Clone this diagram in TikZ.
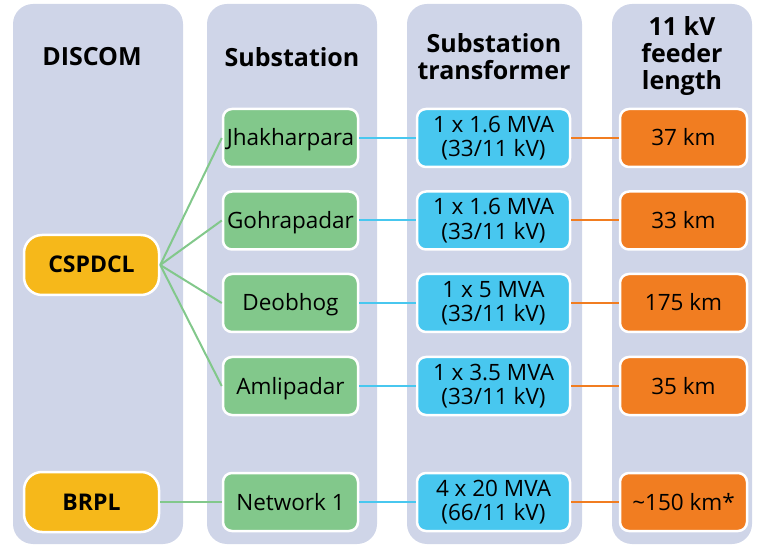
\documentclass[tikz,border=0pt]{standalone}
\usepackage{fontspec}
\setmainfont{Open Sans}
\definecolor{panel}{HTML}{CFD5E8}
\definecolor{discomc}{HTML}{F6B81A}
\definecolor{subc}{HTML}{82C88B}
\definecolor{trc}{HTML}{48C7EF}
\definecolor{fdc}{HTML}{F17D21}
\tikzset{
  box/.style={draw=white, line width=2.5pt, rounded corners=9pt, align=center,
    inner sep=0pt, font=\fontsize{22.5}{24.5}\selectfont},
  oneline/.style={text height=16pt, text depth=0pt},
  discombox/.style={box, oneline, fill=discomc, minimum width=135pt, minimum height=60pt,
    rounded corners=18pt, font=\fontsize{23}{26}\selectfont\bfseries},
  subbox/.style={box, oneline, fill=subc, minimum width=135pt, minimum height=58pt},
  trbox/.style={box, fill=trc, minimum width=153pt, minimum height=58pt},
  fdbox/.style={box, oneline, fill=fdc, minimum width=127pt, minimum height=58pt},
  header/.style={align=center, font=\fontsize{25}{27}\selectfont\bfseries},
  panelbg/.style={fill=panel, rounded corners=20pt},
  gline/.style={draw=subc, line width=2pt},
  bline/.style={draw=trc, line width=2pt},
  oline/.style={draw=fdc, line width=2pt}
}
\begin{document}
\begin{tikzpicture}[x=1pt,y=-1pt]
\useasboundingbox (0,0) rectangle (758,545);
\fill[panelbg] (13,4) rectangle (183,544);
\fill[panelbg] (207,4) rectangle (377,544);
\fill[panelbg] (407,4) rectangle (582,544);
\fill[panelbg] (612,4) rectangle (752,544);

\node[header] (h1) at (92,57) {DISCOM};
\node[header] (h2) at (292,57) {Substation};
\node[header] (h3) at (494,57) {Substation\\transformer};
\node[header] (h4) at (682,56) {11 kV\\feeder\\length};

\node[discombox] (cs) at (91.5,265) {CSPDCL};
\node[discombox] (br) at (91.5,502) {BRPL};

\node[subbox] (s1) at (290.5,138) {Jhakharpara};
\node[subbox] (s2) at (290.5,220.5) {Gohrapadar};
\node[subbox] (s3) at (290.5,303) {Deobhog};
\node[subbox] (s4) at (290.5,386) {Amlipadar};
\node[subbox] (s5) at (290.5,502) {Network 1};

\node[trbox] (t1) at (493.5,138) {1 x 1.6 MVA\\(33/11 kV)};
\node[trbox] (t2) at (493.5,220.5) {1 x 1.6 MVA\\(33/11 kV)};
\node[trbox] (t3) at (493.5,303) {1 x 5 MVA\\(33/11 kV)};
\node[trbox] (t4) at (493.5,386) {1 x 3.5 MVA\\(33/11 kV)};
\node[trbox] (t5) at (493.5,502) {4 x 20 MVA\\(66/11 kV)};

\node[fdbox] (f1) at (683.5,138) {37 km};
\node[fdbox] (f2) at (683.5,220.5) {33 km};
\node[fdbox] (f3) at (683.5,303) {175 km};
\node[fdbox] (f4) at (683.5,386) {35 km};
\node[fdbox] (f5) at (683.5,502) {\textasciitilde150 km*};

\foreach \i in {1,2,3,4} {\draw[gline] (cs.east) -- (s\i.west);}
\draw[gline] (br) -- (s5);
\foreach \i in {1,...,5} {
  \draw[bline] (s\i) -- (t\i);
  \draw[oline] (t\i) -- (f\i);
}
\end{tikzpicture}
\end{document}
